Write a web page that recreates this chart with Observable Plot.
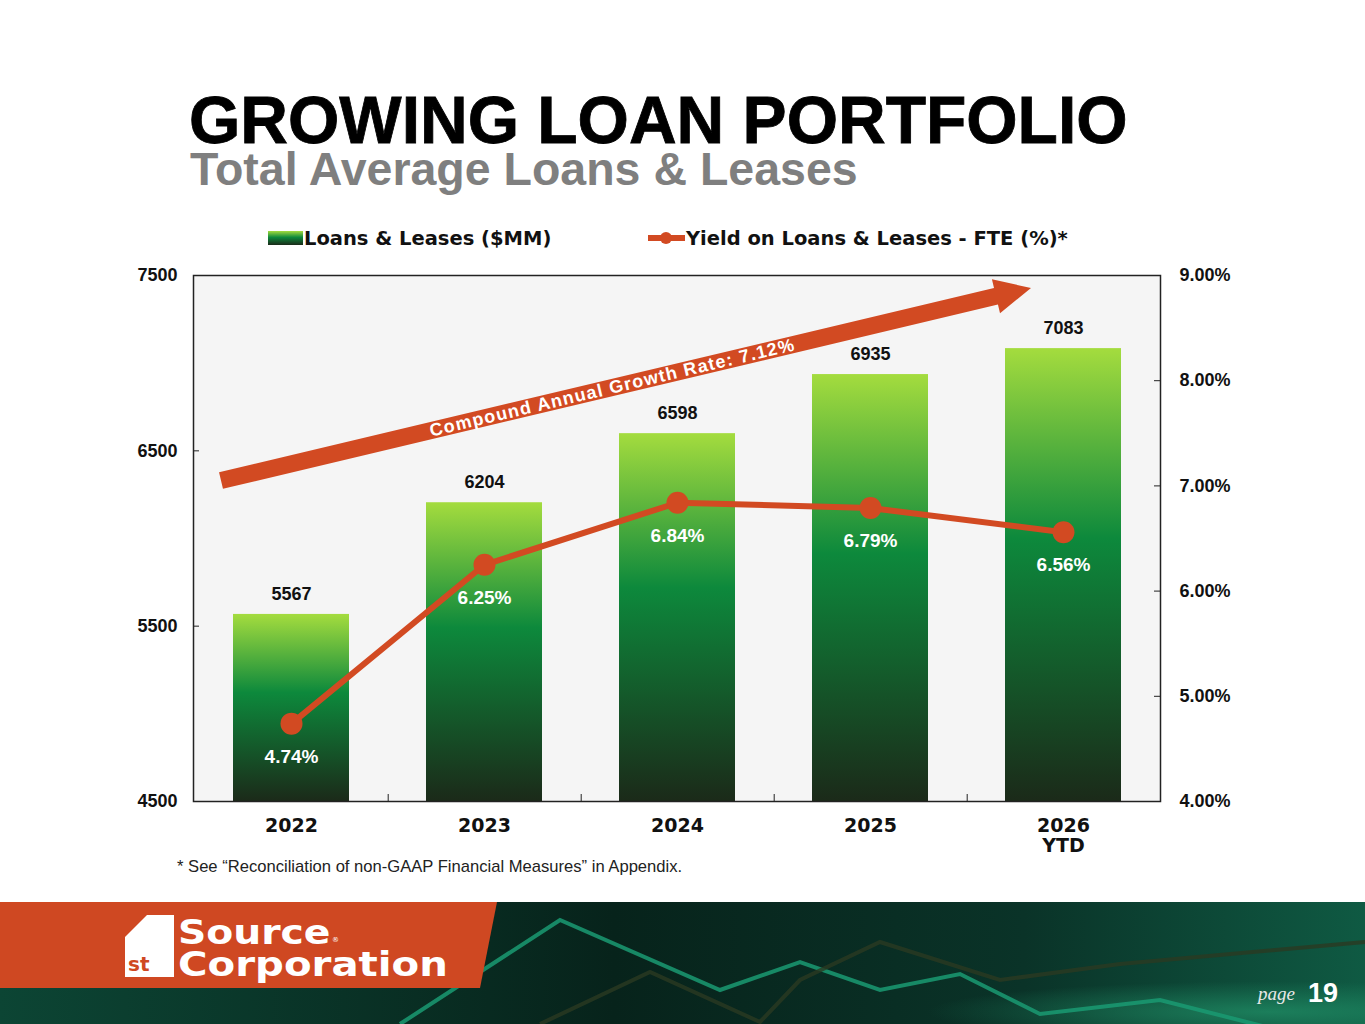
<!DOCTYPE html>
<html>
<head>
<meta charset="utf-8">
<script src="https://cdn.jsdelivr.net/npm/d3@7"></script>
<script src="https://cdn.jsdelivr.net/npm/@observablehq/plot@0.6"></script>
<style>
  html, body { margin: 0; padding: 0; }
  body { width: 1365px; height: 1024px; position: relative; overflow: hidden; background: #fff; font-family: "Liberation Sans", Arial, sans-serif; }
  .abs { position: absolute; white-space: nowrap; }
  #title { left: 189px; top: 92px; font-size: 66px; line-height: 0.85; font-weight: bold; color: #000; -webkit-text-stroke: 0.8px #000; }
  #subtitle { left: 190px; top: 150px; font-size: 46.5px; line-height: 0.85; font-weight: bold; color: #7f7f7f; }
  .leg { font-family: "DejaVu Sans", sans-serif; font-weight: bold; font-size: 19.5px; line-height: 1; color: #111; }
  #chart { left: 100px; top: 255px; }
  #note { left: 177px; top: 859px; font-size: 16.6px; line-height: 1; color: #222; }
  #footer { left: 0; top: 902px; }
  .logo { font-family: "DejaVu Sans", sans-serif; font-weight: bold; font-size: 33px; line-height: 0.9; color: #fff; transform-origin: 0 0; }
</style>
</head>
<body>
<svg width="0" height="0" style="position:absolute">
  <defs>
    <linearGradient id="barGrad" x1="0" y1="0" x2="0" y2="1">
      <stop offset="0" stop-color="#a4dc3e"/>
      <stop offset="0.42" stop-color="#0d893c"/>
      <stop offset="1" stop-color="#1b2a19"/>
    </linearGradient>
  </defs>
</svg>

<div id="title" class="abs">GROWING LOAN PORTFOLIO</div>
<div id="subtitle" class="abs">Total Average Loans &amp; Leases</div>

<div class="abs" style="left:268px; top:231px; width:35px; height:14px; background:linear-gradient(#a4dc3e, #0d893c 45%, #1b2a19);"></div>
<div class="abs leg" style="left:304px; top:229px;">Loans &amp; Leases ($MM)</div>
<div class="abs" style="left:648px; top:235px; width:37px; height:6px; background:#d24a22;"></div>
<div class="abs" style="left:660px; top:232px; width:12px; height:12px; border-radius:50%; background:#d24a22;"></div>
<div class="abs leg" style="left:686px; top:229px;">Yield on Loans &amp; Leases - FTE (%)*</div>

<div id="chart" class="abs"></div>
<div id="note" class="abs">* See “Reconciliation of non-GAAP Financial Measures” in Appendix.</div>

<svg id="footer" class="abs" width="1365" height="122">
  <defs>
    <linearGradient id="footBg" x1="0" y1="0" x2="1" y2="0">
      <stop offset="0" stop-color="#0c4534"/>
      <stop offset="0.45" stop-color="#07231b"/>
      <stop offset="0.75" stop-color="#0a3328"/>
      <stop offset="1" stop-color="#0f5a43"/>
    </linearGradient>
    <radialGradient id="glow" cx="0.93" cy="0.9" r="0.25">
      <stop offset="0" stop-color="#1f8a63" stop-opacity="0.8"/>
      <stop offset="1" stop-color="#1f8a63" stop-opacity="0"/>
    </radialGradient>
  </defs>
  <rect x="0" y="0" width="1365" height="122" fill="url(#footBg)"/>
  <rect x="0" y="0" width="1365" height="122" fill="url(#glow)"/>
  <polyline points="400,122 560,18 720,88 800,60 880,88 960,72 1040,112 1160,98 1365,150" fill="none" stroke="#1a9a72" stroke-width="4" opacity="0.85"/>
  <polyline points="540,122 650,70 760,120 800,78 880,40 1000,78 1120,62 1365,40" fill="none" stroke="#2a3a22" stroke-width="4" opacity="0.8"/>
  <polygon points="0,0 497,0 480,86 0,86" fill="#cf4822"/>
  <path d="M147,13 H174 V75 H125 V35 Z" fill="#fff"/>
  <text x="128" y="69" font-family="DejaVu Sans" font-weight="bold" font-size="20" fill="#cf4822">st</text>
  <text x="332" y="40" font-family="DejaVu Sans" font-size="7" fill="#fff">®</text>
  <text x="1258" y="98" font-family="Liberation Serif" font-style="italic" font-size="19" fill="#e8e8e8">page</text>
  <text x="1308" y="100" font-family="Liberation Sans" font-weight="bold" font-size="27" fill="#fff">19</text>
</svg>
<div class="abs logo" style="left:178px; top:918px; transform: scaleX(1.19);">Source</div>
<div class="abs logo" style="left:178px; top:950px; transform: scaleX(1.22);">Corporation</div>

<script>
// ---- data ----
const years = ["2022", "2023", "2024", "2025", "2026 YTD"];
const loans = [5567, 6204, 6598, 6935, 7083];          // $MM
const yields = [4.74, 6.25, 6.84, 6.79, 6.56];         // %
const leftTicks = [4500, 5500, 6500, 7500];
const rightTicks = [4, 5, 6, 7, 8, 9];                 // %
const cagrLabel = "Compound Annual Growth Rate: 7.12%";
const cagrFrom = {year: "2022", value: 6328};
const cagrTo = {year: "2026 YTD", value: 7426};

// ---- layout ----
const W = 1180, H = 606, ML = 93, MR = 120, MT = 20, MB = 60;
const frameW = W - ML - MR, frameH = H - MT - MB;
const step = frameW / years.length;           // paddingOuter 0.2, paddingInner 0.4
const red = "#d24a22";

// yield (%) mapped onto the loans axis: 4%..9% <-> 4500..7500
const yLo = 4500, yHi = 7500, pLo = 4, pHi = 9;
const pctToY = p => yLo + (p - pLo) * (yHi - yLo) / (pHi - pLo);
const yToPct = v => pLo + (v - yLo) * (pHi - pLo) / (yHi - yLo);

const rows = years.map((year, i) => ({year, loans: loans[i], yld: yields[i], yy: pctToY(yields[i])}));

const plot = Plot.plot({
  width: W, height: H,
  marginLeft: ML, marginRight: MR, marginTop: MT, marginBottom: MB,
  style: {fontFamily: "'Liberation Sans', Arial, sans-serif", background: "transparent", overflow: "visible", color: "#111"},
  x: {domain: years, paddingInner: 0.4, paddingOuter: 0.2, label: null},
  y: {domain: [yLo, yHi], label: null},
  marks: [
    Plot.frame({fill: "#f5f5f5"}),
    Plot.barY(rows, {x: "year", y1: yLo, y2: "loans", fill: "url(#barGrad)"}),
    Plot.text(rows, {x: "year", y: "loans", text: d => String(d.loans), dy: -20, fontSize: 18, fontWeight: "bold", fill: "#111"}),
    Plot.line(rows, {x: "year", y: "yy", stroke: red, strokeWidth: 6}),
    Plot.dot(rows, {x: "year", y: "yy", r: 11, fill: red, stroke: null}),
    Plot.text(rows, {x: "year", y: "yy", text: d => d.yld.toFixed(2) + "%", dy: 33, fontSize: 19, fontWeight: "bold", fill: "#fff"}),
    Plot.tickY(leftTicks.slice(1, -1), {y: d => d, insetRight: frameW - 6, stroke: "#222"}),
    Plot.tickY(rightTicks.slice(1, -1).map(pctToY), {y: d => d, insetLeft: frameW - 6, stroke: "#222"}),
    Plot.tickX(years.slice(0, -1), {x: d => d, dx: step / 2, insetTop: frameH - 7, stroke: "#222"}),
    Plot.frame({stroke: "#222", strokeWidth: 1.5}),
    Plot.axisY(leftTicks, {anchor: "left", tickSize: 0, tickPadding: 16, fontSize: 18, fontWeight: "bold", fill: "#111", label: null,
      tickFormat: d => String(d)}),
    Plot.axisY(rightTicks.map(pctToY), {anchor: "right", tickSize: 0, tickPadding: 19, fontSize: 18, fontWeight: "bold", fill: "#111", label: null,
      tickFormat: v => yToPct(v).toFixed(2) + "%"}),
    Plot.axisX({anchor: "bottom", tickSize: 0, tickPadding: 16, fontSize: 19, fontWeight: "bold", fontFamily: "DejaVu Sans", fill: "#111",
      lineHeight: 1.05, label: null, tickFormat: d => d.replace(" ", "\n")})
  ]
});
document.getElementById("chart").appendChild(plot);

// ---- CAGR arrow annotation, placed through the plot's own scales ----
(function () {
  const sx = plot.scale("x"), sy = plot.scale("y");
  const ns = "http://www.w3.org/2000/svg";
  const x0 = sx.apply(cagrFrom.year) - 12, y0 = sy.apply(cagrFrom.value);
  const xt = sx.apply(cagrTo.year) + 26, yt = sy.apply(cagrTo.value);
  const dx = xt - x0, dy = yt - y0, len = Math.hypot(dx, dy);
  const ux = dx / len, uy = dy / len, nx = -uy, ny = ux;
  const shaft = 8.5, headLen = 36, headHalf = 17.5;
  const bx = xt - ux * headLen, by = yt - uy * headLen;
  const pts = [
    [x0 + nx * shaft, y0 + ny * shaft],
    [bx + nx * shaft, by + ny * shaft],
    [bx + nx * headHalf, by + ny * headHalf],
    [xt, yt],
    [bx - nx * headHalf, by - ny * headHalf],
    [bx - nx * shaft, by - ny * shaft],
    [x0 - nx * shaft, y0 - ny * shaft]
  ];
  const g = document.createElementNS(ns, "g");
  const poly = document.createElementNS(ns, "polygon");
  poly.setAttribute("points", pts.map(p => p.join(",")).join(" "));
  poly.setAttribute("fill", red);
  g.appendChild(poly);
  const t = 0.505;
  const cx = x0 + (bx - x0) * t, cy = y0 + (by - y0) * t;
  const ang = Math.atan2(dy, dx) * 180 / Math.PI;
  const txt = document.createElementNS(ns, "text");
  txt.setAttribute("transform", `translate(${cx},${cy}) rotate(${ang})`);
  txt.setAttribute("text-anchor", "middle");
  txt.setAttribute("dominant-baseline", "central");
  txt.setAttribute("font-size", "18");
  txt.setAttribute("font-weight", "bold");
  txt.setAttribute("letter-spacing", "1.2");
  txt.setAttribute("fill", "#fff");
  txt.textContent = cagrLabel;
  g.appendChild(txt);
  plot.appendChild(g);
})();
</script>
</body>
</html>
